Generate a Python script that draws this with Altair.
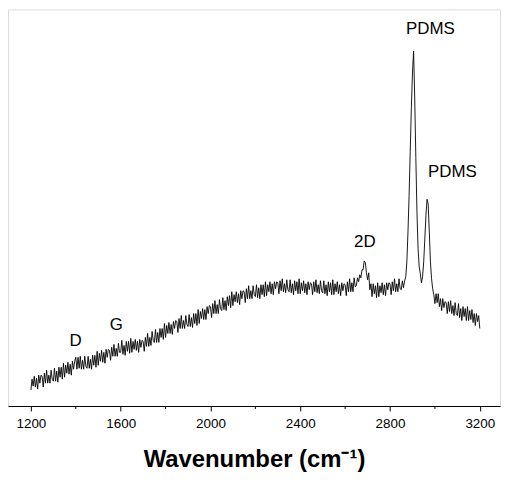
import altair as alt
import pandas as pd

# Raman spectrum (wavenumber grid step 5 cm-1)
wavenumber = list(range(1200, 3201, 5))
intensity = [
    16, 27, 20, 30, 19, 28, 17, 31, 23, 31,            # 1200
    30, 19, 33, 23, 36, 23, 31, 23, 36, 27,            # 1250
    25, 38, 25, 35, 24, 39, 29, 39, 27, 43,            # 1300
    29, 41, 33, 44, 32, 42, 31, 45, 37, 45,            # 1350
    49, 37, 49, 38, 50, 37, 46, 37, 50, 40,            # 1400
    38, 50, 38, 47, 37, 51, 41, 51, 39, 55,            # 1450
    41, 53, 45, 56, 44, 54, 43, 57, 49, 57,            # 1500
    56, 46, 59, 50, 62, 50, 58, 50, 63, 54,            # 1550
    54, 66, 52, 61, 51, 65, 55, 65, 53, 68,            # 1600
    54, 65, 57, 67, 56, 65, 54, 67, 59, 66,            # 1650
    65, 55, 69, 60, 73, 60, 69, 61, 75, 66,            # 1700
    64, 77, 64, 74, 64, 78, 69, 78, 67, 83,            # 1750
    69, 81, 73, 84, 73, 82, 72, 85, 78, 86,            # 1800
    85, 74, 88, 78, 91, 78, 86, 78, 91, 82,            # 1850
    80, 92, 80, 89, 79, 93, 83, 93, 81, 97,            # 1900
    83, 95, 88, 98, 87, 97, 87, 100, 93, 101,          # 1950
    100, 89, 103, 93, 106, 93, 102, 93, 107, 98,       # 2000
    96, 109, 97, 106, 96, 110, 101, 111, 99, 115,      # 2050
    101, 112, 105, 115, 104, 113, 102, 116, 108, 116,  # 2100
    115, 104, 118, 108, 121, 108, 116, 108, 121, 112,  # 2150
    110, 122, 109, 119, 108, 122, 112, 122, 110, 125,  # 2200
    111, 122, 115, 125, 113, 123, 112, 125, 118, 125,  # 2250
    124, 113, 126, 116, 128, 115, 123, 114, 127, 117,  # 2300
    115, 127, 114, 123, 112, 126, 116, 125, 113, 128,  # 2350
    113, 124, 116, 126, 114, 123, 112, 125, 117, 124,  # 2400
    123, 112, 125, 115, 127, 114, 122, 113, 126, 116,  # 2450
    114, 126, 113, 122, 111, 125, 115, 124, 112, 127,  # 2500
    112, 123, 115, 125, 113, 122, 111, 124, 116, 123,  # 2550
    122, 111, 125, 115, 128, 115, 124, 115, 129, 120,  # 2600
    121, 129, 125, 132, 129, 137, 137, 146, 144, 134,  # 2650
    127, 134, 117, 123, 110, 123, 113, 121, 109, 124,  # 2700
    110, 121, 114, 124, 112, 122, 111, 124, 117, 124,  # 2750
    123, 112, 125, 116, 128, 115, 123, 115, 128, 118,  # 2800
    117, 126, 119, 126, 130, 145, 175, 212, 256, 300,  # 2850
    335, 357, 310, 250, 195, 158, 140, 133, 124, 130,  # 2900
    145, 168, 192, 208, 203, 175, 145, 128, 118, 112,  # 2950
    103, 113, 104, 113, 100, 108, 96, 108, 99, 105,    # 3000
    104, 93, 105, 95, 106, 93, 101, 91, 104, 93,       # 3050
    91, 103, 89, 98, 86, 100, 90, 98, 86, 100,         # 3100
    86, 96, 87, 97, 84, 93, 81, 93, 85, 91,            # 3150
    78,                                                # 3200
]

major_ticks = [1200, 1600, 2000, 2400, 2800, 3200]
minor_ticks = [1400, 1800, 2200, 2600, 3000]

label_text = ["PDMS", "PDMS", "2D", "D", "G"]
label_x = [2980, 3078, 2688, 1399, 1581]
label_y = [379, 235, 165, 65, 81]

df = pd.DataFrame({"w": wavenumber, "i": intensity})
df_minor = pd.DataFrame({"w": minor_ticks})
df_lab = pd.DataFrame({"t": label_text, "w": label_x, "i": label_y})

FONT = "Liberation Sans"
xscale = alt.Scale(domain=[1098, 3290], nice=False, zero=False)
yscale = alt.Scale(domain=[0, 399], nice=False, zero=False)

line = alt.Chart(df).mark_line(color="black", strokeWidth=0.9).encode(
    x=alt.X(
        "w:Q",
        scale=xscale,
        axis=alt.Axis(
            values=major_ticks,
            format="d",
            title="Wavenumber (cm⁻¹)",
            grid=False,
            tickSize=5,
            tickColor="black",
            domainColor="black",
            labelFont=FONT,
            labelFontSize=13.5,
            labelColor="black",
            labelPadding=6,
            labelFlush=False,
            titleFont=FONT,
            titleFontSize=24,
            titleFontWeight="bold",
            titleColor="black",
            titlePadding=17,
        ),
    ),
    y=alt.Y("i:Q", scale=yscale, axis=None),
)

minor = alt.Chart(df_minor).mark_rule(color="black", strokeWidth=1).encode(
    x=alt.X("w:Q", scale=xscale),
    y=alt.value(399),
    y2=alt.value(402),
)

labels = alt.Chart(df_lab).mark_text(
    font=FONT, fontSize=17, color="black", align="center", baseline="middle"
).encode(
    x=alt.X("w:Q", scale=xscale),
    y=alt.Y("i:Q", scale=yscale),
    text="t:N",
)

chart = (
    alt.layer(line, minor, labels)
    .properties(width=495, height=399, padding={"left": 0, "top": 0, "right": 2, "bottom": 4})
    .configure_view(stroke="black", strokeWidth=1)
    .configure(background="white")
)

chart.save("out.html", embed_options={"renderer": "svg", "actions": False})
